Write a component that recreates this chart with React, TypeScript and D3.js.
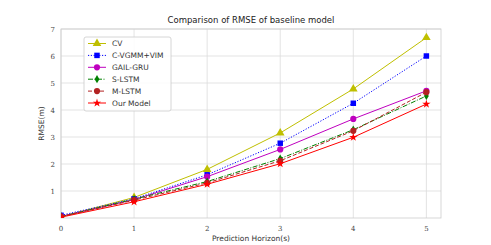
import React, { useRef, useEffect } from "react";
import * as d3 from "d3";

const horizons = [0, 1, 2, 3, 4, 5];
const xTicks = [0, 1, 2, 3, 4, 5];
const yTicks = [1, 2, 3, 4, 5, 6, 7];

const cv = [0.05, 0.76, 1.8, 3.15, 4.78, 6.68];
const cvgmm = [0.1, 0.71, 1.6, 2.77, 4.25, 6.0];
const gailGru = [0.06, 0.68, 1.53, 2.54, 3.67, 4.71];
const sLstm = [0.05, 0.7, 1.35, 2.2, 3.27, 4.52];
const mLstm = [0.05, 0.66, 1.3, 2.12, 3.23, 4.66];
const ourModel = [0.03, 0.6, 1.25, 2.01, 2.99, 4.22];

const series = [
  { name: "CV", values: cv, color: "#bfbf00", dash: "", marker: "triangle" },
  { name: "C-VGMM+VIM", values: cvgmm, color: "#0000ff", dash: "1.2,1.6", marker: "square" },
  { name: "GAIL-GRU", values: gailGru, color: "#bf00bf", dash: "", marker: "circle" },
  { name: "S-LSTM", values: sLstm, color: "#008000", dash: "5,1.5,1,1.5", marker: "diamond" },
  { name: "M-LSTM", values: mLstm, color: "#b22222", dash: "4,2", marker: "hexagon" },
  { name: "Our Model", values: ourModel, color: "#ff0000", dash: "", marker: "star" },
];

const W = 491;
const H = 245;
const margin = { left: 61, right: 50, top: 29, bottom: 27 };

function symbolFor(m: string) {
  if (m === "triangle") return d3.symbol(d3.symbolTriangle, 32);
  if (m === "square") return d3.symbol(d3.symbolSquare, 30);
  if (m === "circle") return d3.symbol(d3.symbolCircle, 30);
  if (m === "diamond") return d3.symbol(d3.symbolDiamond, 20);
  if (m === "hexagon") return d3.symbol(d3.symbolCircle, 30);
  return d3.symbol(d3.symbolStar, 22);
}

const App = () => {
  const ref = useRef<SVGSVGElement>(null);

  useEffect(() => {
    const svg = d3.select(ref.current);
    svg.selectAll("*").remove();

    const innerW = W - margin.left - margin.right;
    const innerH = H - margin.top - margin.bottom;

    const x = d3.scaleLinear().domain([0, 5.2]).range([0, innerW]);
    const y = d3.scaleLinear().domain([0, 7]).range([innerH, 0]);

    svg
      .append("defs")
      .append("clipPath")
      .attr("id", "plotclip")
      .append("rect")
      .attr("width", innerW)
      .attr("height", innerH);

    const g = svg
      .append("g")
      .attr("transform", `translate(${margin.left},${margin.top})`);

    // grid
    g.selectAll(".gx")
      .data(xTicks)
      .enter()
      .append("line")
      .attr("x1", (d) => x(d))
      .attr("x2", (d) => x(d))
      .attr("y1", 0)
      .attr("y2", innerH)
      .attr("stroke", "#dcdcdc")
      .attr("stroke-width", 0.8);
    g.selectAll(".gy")
      .data(yTicks)
      .enter()
      .append("line")
      .attr("x1", 0)
      .attr("x2", innerW)
      .attr("y1", (d) => y(d))
      .attr("y2", (d) => y(d))
      .attr("stroke", "#dcdcdc")
      .attr("stroke-width", 0.8);

    g.append("rect")
      .attr("width", innerW)
      .attr("height", innerH)
      .attr("fill", "none")
      .attr("stroke", "#cccccc")
      .attr("stroke-width", 0.8);

    // tick labels
    g.selectAll(".tx")
      .data(xTicks)
      .enter()
      .append("text")
      .attr("x", (d) => x(d))
      .attr("y", innerH + 13)
      .attr("text-anchor", "middle")
      .style("font-family", "DejaVu Serif")
      .style("font-size", "7px")
      .attr("fill", "#444")
      .text((d) => d);
    g.selectAll(".ty")
      .data(yTicks)
      .enter()
      .append("text")
      .attr("x", -6)
      .attr("y", (d) => y(d) + 2.5)
      .attr("text-anchor", "end")
      .style("font-family", "DejaVu Serif")
      .style("font-size", "7px")
      .attr("fill", "#444")
      .text((d) => d);

    // title and axis labels
    svg
      .append("text")
      .attr("x", margin.left + innerW / 2)
      .attr("y", 23)
      .attr("text-anchor", "middle")
      .style("font-family", "DejaVu Sans")
      .style("font-size", "8.5px")
      .attr("fill", "#222")
      .text("Comparison of RMSE of baseline model");
    svg
      .append("text")
      .attr("x", margin.left + innerW / 2)
      .attr("y", 241)
      .attr("text-anchor", "middle")
      .style("font-family", "DejaVu Sans")
      .style("font-size", "7.5px")
      .attr("fill", "#333")
      .text("Prediction Horizon(s)");
    svg
      .append("text")
      .attr("transform", `translate(44,${margin.top + innerH / 2}) rotate(-90)`)
      .attr("text-anchor", "middle")
      .style("font-family", "DejaVu Sans")
      .style("font-size", "7.5px")
      .attr("fill", "#333")
      .text("RMSE(m)");

    const lineGen = d3
      .line<number>()
      .x((d, i) => x(horizons[i]))
      .y((d) => y(d));

    const plot = g.append("g").attr("clip-path", "url(#plotclip)");

    series.forEach((s) => {
      plot
        .append("path")
        .datum(s.values)
        .attr("fill", "none")
        .attr("stroke", s.color)
        .attr("stroke-width", 1)
        .attr("stroke-dasharray", s.dash || null)
        .attr("d", lineGen);
      plot
        .selectAll(null)
        .data(s.values)
        .enter()
        .append("path")
        .attr("transform", (d, i) => `translate(${x(horizons[i])},${y(d)})`)
        .attr("d", symbolFor(s.marker)() as string)
        .attr("fill", s.color);
    });

    // legend
    const lg = svg.append("g").attr("transform", "translate(84,37)");
    lg.append("rect")
      .attr("width", 87)
      .attr("height", 74)
      .attr("rx", 2)
      .attr("fill", "white")
      .attr("fill-opacity", 0.85)
      .attr("stroke", "#cccccc")
      .attr("stroke-width", 0.8);
    series.forEach((s, i) => {
      const ly = 6.5 + i * 11.9;
      lg.append("line")
        .attr("x1", 4)
        .attr("x2", 22)
        .attr("y1", ly)
        .attr("y2", ly)
        .attr("stroke", s.color)
        .attr("stroke-width", 1)
        .attr("stroke-dasharray", s.dash || null);
      lg.append("path")
        .attr("transform", `translate(13,${ly})`)
        .attr("d", symbolFor(s.marker)() as string)
        .attr("fill", s.color);
      lg.append("text")
        .attr("x", 28)
        .attr("y", ly + 2.8)
        .style("font-family", "DejaVu Sans")
        .style("font-size", "7.5px")
        .attr("fill", "#333")
        .text(s.name);
    });
  }, []);

  return (
    <svg
      ref={ref}
      width={W}
      height={H}
      style={{ position: "absolute", left: 0, top: 0, background: "white" }}
    />
  );
};

export default App;
